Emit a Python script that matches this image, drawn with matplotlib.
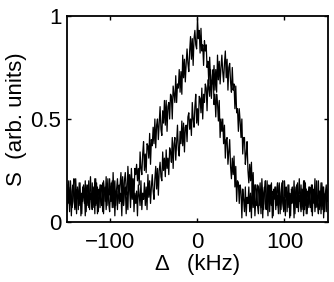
import numpy as np
import matplotlib
matplotlib.use("Agg")
import matplotlib.pyplot as plt

plt.rcParams['font.family'] = ['Liberation Sans', 'DejaVu Sans']

# detuning grid (kHz), 1 kHz steps
delta = np.arange(-150, 151, 1)

# trace centred near 0 kHz
sig_a = [0.18, 0.09, 0.14, 0.05, 0.20, 0.11, 0.07, 0.16, 0.21, 0.06, 0.13, 0.04, 0.17, 0.15, 0.08, 0.19, 0.03, 0.14, 0.10, 0.18,
         0.09, 0.20, 0.05, 0.16, 0.18, 0.07, 0.14, 0.22, 0.10, 0.06, 0.17, 0.11, 0.21, 0.08, 0.19, 0.04, 0.15, 0.16, 0.07, 0.18,
         0.17, 0.05, 0.20, 0.15, 0.10, 0.22, 0.08, 0.16, 0.13, 0.21, 0.10, 0.19, 0.07, 0.24, 0.12, 0.20, 0.08, 0.16, 0.21, 0.13,
         0.09, 0.18, 0.24, 0.13, 0.22, 0.08, 0.20, 0.24, 0.16, 0.13, 0.27, 0.18, 0.23, 0.13, 0.26, 0.17, 0.21, 0.12, 0.26, 0.23,
         0.28, 0.20, 0.26, 0.18, 0.34, 0.26, 0.23, 0.33, 0.39, 0.25, 0.33, 0.24, 0.38, 0.37, 0.31, 0.43, 0.28, 0.40, 0.37, 0.46,
         0.38, 0.50, 0.36, 0.47, 0.50, 0.40, 0.48, 0.56, 0.45, 0.42, 0.54, 0.48, 0.59, 0.47, 0.59, 0.44, 0.56, 0.58, 0.50, 0.62,
         0.61, 0.50, 0.66, 0.62, 0.58, 0.71, 0.58, 0.67, 0.65, 0.74, 0.63, 0.73, 0.62, 0.81, 0.70, 0.79, 0.68, 0.77, 0.84, 0.77,
         0.73, 0.83, 0.90, 0.79, 0.89, 0.76, 0.89, 0.93, 0.86, 0.84, 0.99, 0.89, 0.93, 0.82, 0.94, 0.83, 0.86, 0.76, 0.88, 0.83,
         0.86, 0.75, 0.78, 0.67, 0.80, 0.69, 0.64, 0.71, 0.74, 0.57, 0.62, 0.51, 0.62, 0.58, 0.49, 0.59, 0.41, 0.50, 0.44, 0.50,
         0.38, 0.47, 0.31, 0.40, 0.41, 0.28, 0.34, 0.40, 0.27, 0.21, 0.31, 0.23, 0.32, 0.17, 0.27, 0.10, 0.20, 0.19, 0.09, 0.18,
         0.15, 0.02, 0.16, 0.11, 0.05, 0.17, 0.03, 0.12, 0.09, 0.17, 0.05, 0.14, 0.02, 0.19, 0.07, 0.15, 0.03, 0.11, 0.16, 0.08,
         0.04, 0.13, 0.19, 0.07, 0.16, 0.02, 0.14, 0.17, 0.09, 0.06, 0.20, 0.10, 0.15, 0.05, 0.18, 0.08, 0.12, 0.03, 0.16, 0.13,
         0.17, 0.08, 0.13, 0.04, 0.19, 0.10, 0.06, 0.15, 0.20, 0.05, 0.12, 0.03, 0.16, 0.14, 0.07, 0.18, 0.02, 0.13, 0.09, 0.17,
         0.14, 0.02, 0.17, 0.12, 0.07, 0.19, 0.05, 0.13, 0.10, 0.18, 0.06, 0.15, 0.03, 0.20, 0.08, 0.16, 0.04, 0.12, 0.17, 0.09,
         0.07, 0.18, 0.03, 0.14, 0.16, 0.05, 0.12, 0.20, 0.08, 0.04, 0.15, 0.09, 0.19, 0.06, 0.17, 0.02, 0.13, 0.14, 0.05, 0.16,
         0.10]

# trace shifted to about +25 kHz
sig_b = [0.05, 0.14, 0.20, 0.08, 0.17, 0.03, 0.15, 0.18, 0.10, 0.07, 0.21, 0.11, 0.16, 0.06, 0.19, 0.09, 0.13, 0.04, 0.17, 0.14,
         0.15, 0.03, 0.18, 0.13, 0.08, 0.20, 0.06, 0.14, 0.11, 0.19, 0.07, 0.16, 0.04, 0.21, 0.09, 0.17, 0.05, 0.13, 0.18, 0.10,
         0.08, 0.19, 0.04, 0.15, 0.17, 0.06, 0.13, 0.21, 0.09, 0.05, 0.16, 0.10, 0.20, 0.07, 0.18, 0.03, 0.14, 0.15, 0.06, 0.17,
         0.18, 0.10, 0.14, 0.03, 0.19, 0.08, 0.15, 0.17, 0.04, 0.13, 0.06, 0.21, 0.16, 0.07, 0.19, 0.11, 0.20, 0.05, 0.14, 0.09,
         0.15, 0.03, 0.18, 0.13, 0.08, 0.20, 0.06, 0.14, 0.11, 0.19, 0.08, 0.17, 0.06, 0.23, 0.12, 0.20, 0.09, 0.17, 0.23, 0.15,
         0.11, 0.21, 0.27, 0.16, 0.26, 0.13, 0.25, 0.29, 0.22, 0.20, 0.34, 0.25, 0.31, 0.22, 0.35, 0.26, 0.31, 0.23, 0.36, 0.34,
         0.29, 0.41, 0.26, 0.38, 0.41, 0.30, 0.38, 0.47, 0.35, 0.32, 0.44, 0.38, 0.49, 0.37, 0.48, 0.34, 0.46, 0.47, 0.39, 0.51,
         0.53, 0.45, 0.50, 0.42, 0.58, 0.50, 0.46, 0.56, 0.62, 0.48, 0.55, 0.47, 0.61, 0.60, 0.53, 0.65, 0.50, 0.62, 0.58, 0.67,
         0.65, 0.54, 0.69, 0.65, 0.61, 0.74, 0.60, 0.69, 0.67, 0.76, 0.64, 0.74, 0.63, 0.81, 0.69, 0.78, 0.67, 0.75, 0.81, 0.73,
         0.68, 0.77, 0.83, 0.70, 0.79, 0.64, 0.75, 0.77, 0.68, 0.63, 0.75, 0.64, 0.67, 0.55, 0.66, 0.53, 0.55, 0.44, 0.55, 0.49,
         0.41, 0.50, 0.33, 0.41, 0.41, 0.28, 0.33, 0.39, 0.25, 0.19, 0.28, 0.20, 0.29, 0.14, 0.24, 0.08, 0.18, 0.18, 0.08, 0.18,
         0.17, 0.08, 0.15, 0.04, 0.21, 0.12, 0.06, 0.15, 0.20, 0.07, 0.12, 0.03, 0.18, 0.14, 0.09, 0.19, 0.02, 0.15, 0.11, 0.17,
         0.06, 0.15, 0.19, 0.07, 0.18, 0.04, 0.14, 0.19, 0.09, 0.06, 0.20, 0.12, 0.17, 0.05, 0.18, 0.10, 0.14, 0.03, 0.16, 0.13,
         0.09, 0.20, 0.04, 0.14, 0.18, 0.07, 0.12, 0.21, 0.10, 0.05, 0.16, 0.11, 0.20, 0.06, 0.19, 0.04, 0.15, 0.14, 0.07, 0.17,
         0.16, 0.05, 0.18, 0.12, 0.09, 0.21, 0.07, 0.13, 0.10, 0.20, 0.06, 0.15, 0.04, 0.19, 0.09, 0.17, 0.05, 0.14, 0.18, 0.10,
         0.13]

xticks = [-100, 0, 100]
xtick_labels = ['\u2212100', '0', '100']
yticks = [0, 0.5, 1]
ytick_labels = ['0', '0.5', '1']

fig = plt.figure(figsize=(3.34, 2.82), dpi=100)
ax = fig.add_axes([0.2006, 0.2128, 0.7814, 0.7305])

ax.plot(delta, sig_a, color='black', lw=0.9)
ax.plot(delta, sig_b, color='black', lw=0.9)

ax.set_xlim(-150, 150)
ax.set_ylim(0, 1)
ax.set_xticks(xticks)
ax.set_xticklabels(xtick_labels)
ax.set_yticks(yticks)
ax.set_yticklabels(ytick_labels)
ax.tick_params(direction='in', length=3, width=1, top=True, right=True,
               labelsize=16)
ax.tick_params(axis='x', pad=7)
ax.tick_params(axis='y', pad=4)
for s in ax.spines.values():
    s.set_linewidth(1.3)

ax.set_xlabel('\u0394   (kHz)', fontsize=16, labelpad=1)
ax.set_ylabel('S  (arb. units)', fontsize=16, labelpad=2.5)

fig.savefig('out.png', dpi=100)
